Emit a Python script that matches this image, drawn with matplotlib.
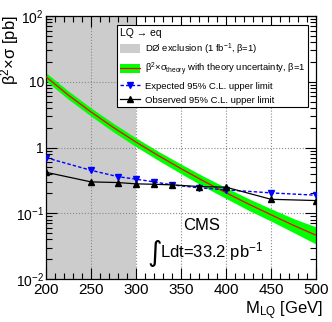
import matplotlib
matplotlib.use("Agg")
import matplotlib.pyplot as plt
from matplotlib.patches import Patch
from matplotlib.lines import Line2D
from matplotlib.ticker import MultipleLocator, LogLocator, NullFormatter

plt.rcParams['font.family'] = ['Liberation Sans', 'DejaVu Sans']
plt.rcParams['mathtext.fontset'] = 'custom'
plt.rcParams['mathtext.rm'] = 'Liberation Sans'
plt.rcParams['mathtext.it'] = 'Liberation Sans:italic'

# theory cross section (pb) with uncertainty band
m_theory = [200, 225, 250, 275, 300, 325, 350, 375, 400, 425, 450, 475, 500]
xs_theory = [11.9, 6.24, 3.47, 2.01, 1.21, 0.750, 0.477, 0.309, 0.205, 0.138, 0.0949, 0.0655, 0.0463]
xs_hi = [13.7, 7.2, 4.0, 2.32, 1.40, 0.87, 0.56, 0.365, 0.245, 0.167, 0.117, 0.083, 0.062]
xs_lo = [10.3, 5.4, 3.0, 1.72, 1.03, 0.635, 0.40, 0.255, 0.168, 0.111, 0.076, 0.051, 0.034]

# limits
m_lim = [200, 250, 280, 300, 320, 340, 370, 400, 450, 500]
expected = [0.70, 0.45, 0.36, 0.33, 0.30, 0.27, 0.244, 0.227, 0.204, 0.188]
observed = [0.42, 0.30, 0.293, 0.28, 0.276, 0.27, 0.255, 0.249, 0.163, 0.156]

d0_lo, d0_hi = 200, 300

fig = plt.figure(figsize=(3.32, 3.22), dpi=100)
ax = fig.add_axes([46/332, 43/322, 270/332, 263/322])

ax.axvspan(d0_lo, d0_hi, color='#cccccc', lw=0, zorder=0)
ax.fill_between(m_theory, xs_lo, xs_hi, color='#00ff00', lw=0, zorder=2)
ax.plot(m_theory, xs_theory, color='red', lw=0.9, zorder=3)
ax.plot(m_lim, expected, color='blue', ls=(0, (2.5, 1.5)), lw=1.0,
        marker='v', ms=4.5, zorder=4)
ax.plot(m_lim, observed, color='black', lw=0.9, marker='^', ms=4.5, zorder=4)

ax.set_yscale('log')
ax.set_xlim(200, 500)
ax.set_ylim(1e-2, 1e2)

# grid
for xg in [250, 300, 350, 400, 450]:
    ax.axvline(xg, color='#888888', ls=':', lw=0.8, zorder=1)
for yg in [0.1, 1, 10]:
    ax.axhline(yg, color='#888888', ls=':', lw=0.8, zorder=1)

ax.xaxis.set_major_locator(MultipleLocator(50))
ax.xaxis.set_minor_locator(MultipleLocator(10))
ax.set_yticks([1e-2, 1e-1, 1, 10, 100])
ax.set_yticklabels(['10$^{-2}$', '10$^{-1}$', '1', '10', '10$^{2}$'])
ax.yaxis.set_minor_locator(LogLocator(base=10, subs=range(2, 10)))
ax.yaxis.set_minor_formatter(NullFormatter())
ax.tick_params(which='both', direction='in', top=True, right=True, width=0.8)
ax.tick_params(which='minor', length=4)
ax.tick_params(axis='x', which='major', length=8, labelsize=11, pad=3)
ax.tick_params(axis='y', which='major', length=8, labelsize=10, pad=1.5)
for s in ax.spines.values():
    s.set_linewidth(0.9)

fig.text(323/332, 1 - 311/322, r'M$_{\mathregular{LQ}}$ [GeV]', ha='right',
         va='center', fontsize=12)
fig.text(10/332, 1 - 15/322, r'β$^{2}$×σ [pb]', rotation=90, ha='center',
         va='top', fontsize=12)

handles = [Patch(facecolor='#cccccc', edgecolor='none'),
           (Patch(facecolor='#00ff00', edgecolor='none'), Line2D([], [], color='red', lw=0.9)),
           Line2D([], [], color='blue', ls=(0, (2.5, 1.5)), lw=1.0, marker='v', ms=4),
           Line2D([], [], color='black', lw=0.9, marker='^', ms=4)]
labels = [r'DØ exclusion (1 fb$^{-1}$, β=1)',
          r'β$^{2}$×σ$_{\mathregular{theory}}$ with theory uncertainty, β=1',
          'Expected 95% C.L. upper limit',
          'Observed 95% C.L. upper limit']
leg = ax.legend(handles, labels, title='LQ → eq', loc='upper left',
                bbox_to_anchor=(0.264, 0.965), fontsize=6.8, title_fontsize=7.5,
                frameon=True, fancybox=False, edgecolor='black', framealpha=1,
                handlelength=2.2, handleheight=1.1, labelspacing=0.4,
                borderpad=0.25, handletextpad=0.5, borderaxespad=0)
leg._legend_box.align = 'left'
leg.get_frame().set_linewidth(0.8)
leg.set_zorder(10)

ax.text(0.577, 0.205, 'CMS', transform=ax.transAxes, ha='center', va='center',
        fontsize=12)
ax.text(0.403, 0.097, '∫', transform=ax.transAxes, ha='center', va='center',
        fontsize=20, family='DejaVu Sans')
ax.text(0.615, 0.104, r'Ldt=33.2 pb$^{-1}$', transform=ax.transAxes,
        ha='center', va='center', fontsize=12)

fig.savefig('out.png', dpi=100)
